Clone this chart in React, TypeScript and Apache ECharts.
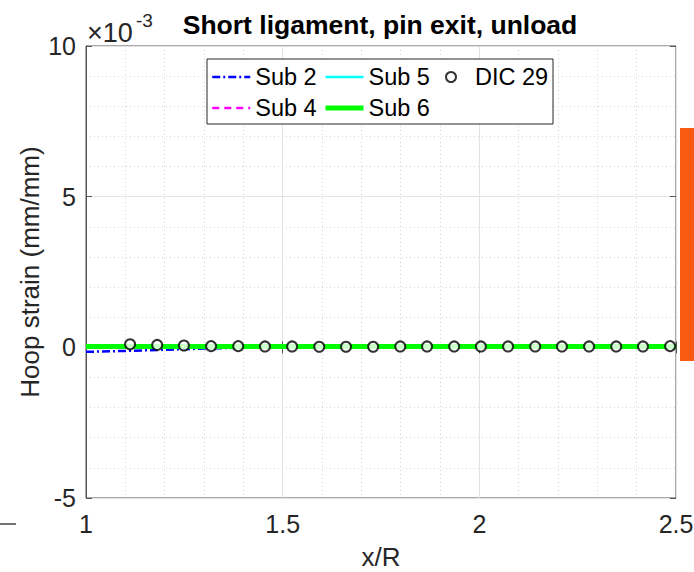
import React, { useEffect, useRef } from "react";
import * as echarts from "echarts";

// ---- data (strain values in units of 1e-3 mm/mm) ----
const titleText = "Short ligament, pin exit, unload";
const xTicks = [1, 1.5, 2, 2.5];
const yTicks = [-5, 0, 5, 10];

const simX = [1.0, 1.1, 1.2, 1.3, 1.4, 1.5, 1.75, 2.0, 2.25, 2.5];
const sub2Y = [-0.15, -0.12, -0.08, -0.04, -0.01, 0.01, 0.02, 0.02, 0.02, 0.02];
const sub4Y = [0.0, 0.01, 0.01, 0.02, 0.02, 0.02, 0.02, 0.02, 0.02, 0.02];
const sub5Y = [0.02, 0.02, 0.02, 0.02, 0.02, 0.02, 0.02, 0.02, 0.02, 0.02];
const sub6Y = [0.03, 0.03, 0.03, 0.03, 0.03, 0.03, 0.03, 0.03, 0.03, 0.03];

const dicX = [
  1.112, 1.181, 1.249, 1.318, 1.387, 1.455, 1.524, 1.593, 1.661, 1.73, 1.799,
  1.867, 1.936, 2.004, 2.073, 2.142, 2.21, 2.279, 2.348, 2.416, 2.485,
];
const dicY = [
  0.1, 0.08, 0.06, 0.04, 0.04, 0.03, 0.03, 0.02, 0.02, 0.02, 0.03, 0.03, 0.03,
  0.03, 0.03, 0.03, 0.03, 0.03, 0.03, 0.03, 0.04,
];

const zip = (xs: number[], ys: number[]) => xs.map((x, i) => [x, ys[i]]);

const FONT = "Liberation Sans";
const AX = "#262626";

export default function App() {
  const ref = useRef<HTMLDivElement>(null);
  useEffect(() => {
    const chart = echarts.init(ref.current!, null, { renderer: "svg" });
    const baseX = {
      type: "value" as const,
      min: xTicks[0],
      max: xTicks[xTicks.length - 1],
      interval: 0.5,
    };
    const baseY = {
      type: "value" as const,
      min: yTicks[0],
      max: yTicks[yTicks.length - 1],
      interval: 5,
    };
    const legendText = { fontSize: 23.5, color: "#000", fontFamily: FONT, lineHeight: 26 };
    const hideSym = { opacity: 0 };
    chart.setOption({
      animation: false,
      textStyle: { fontFamily: FONT },
      title: {
        text: titleText,
        left: 380,
        top: 11,
        padding: 0,
        textAlign: "center",
        textStyle: { fontSize: 26.5, fontWeight: "bold", color: "#000", fontFamily: FONT },
      },
      grid: {
        left: 86,
        top: 46,
        width: 590,
        height: 452,
        outerBoundsMode: "none",
        containLabel: false,
        show: true,
        borderColor: "#555",
        borderWidth: 1,
        backgroundColor: "#fff",
      },
      xAxis: [
        {
          ...baseX,
          position: "bottom",
          name: "x/R",
          nameLocation: "middle",
          nameGap: 46,
          nameMoveOverlap: false,
          nameTextStyle: { fontSize: 26, color: AX, fontFamily: FONT, lineHeight: 26 },
          axisLine: { show: true, lineStyle: { color: "#555" } },
          axisTick: { show: true, inside: true, length: 6, lineStyle: { color: "#555" } },
          axisLabel: { fontSize: 25, color: AX, margin: 13 },
          splitLine: { show: true, lineStyle: { color: "#e3e3e3", width: 1 } },
          minorTick: { show: false, splitNumber: 5 },
          minorSplitLine: { show: true, lineStyle: { color: "#d4d4d4", type: [1, 3], width: 1 } },
        },
        {
          ...baseX,
          position: "top",
          axisLine: { show: false },
          axisTick: { show: true, inside: true, length: 6, lineStyle: { color: "#555" } },
          axisLabel: { show: false },
          splitLine: { show: false },
        },
      ],
      yAxis: [
        {
          ...baseY,
          position: "left",
          name: "Hoop strain (mm/mm)",
          nameLocation: "middle",
          nameGap: 43,
          nameMoveOverlap: false,
          nameTextStyle: { fontSize: 26, color: AX, fontFamily: FONT, lineHeight: 26 },
          axisLine: { show: true, lineStyle: { color: "#555" } },
          axisTick: { show: true, inside: true, length: 6, lineStyle: { color: "#555" } },
          axisLabel: { fontSize: 25, color: AX, margin: 10 },
          splitLine: { show: true, lineStyle: { color: "#e3e3e3", width: 1 } },
          minorTick: { show: false, splitNumber: 5 },
          minorSplitLine: { show: true, lineStyle: { color: "#d4d4d4", type: [1, 3], width: 1 } },
        },
        {
          ...baseY,
          position: "right",
          axisLine: { show: false },
          axisTick: { show: true, inside: true, length: 6, lineStyle: { color: "#555" } },
          axisLabel: { show: false },
          splitLine: { show: false },
        },
      ],
      legend: [
        {
          orient: "vertical",
          left: 211,
          top: 64,
          padding: 0,
          itemWidth: 38,
          itemHeight: 14,
          itemGap: 5,
          itemStyle: hideSym,
          lineStyle: { width: 2.5 },
          textStyle: legendText,
          data: [{ name: "Sub 2" }, { name: "Sub 4" }],
        },
        {
          orient: "vertical",
          left: 323,
          top: 64,
          padding: 0,
          itemWidth: 38,
          itemHeight: 14,
          itemGap: 5,
          itemStyle: hideSym,
          lineStyle: { width: 2.5 },
          textStyle: legendText,
          data: [{ name: "Sub 5" }, { name: "Sub 6", lineStyle: { width: 5 } }],
        },
        {
          orient: "vertical",
          left: 445,
          top: 64,
          padding: 0,
          itemWidth: 38,
          itemHeight: 10,
          itemGap: 5,
          textStyle: legendText,
          data: [{ name: "DIC 29" }],
        },
      ],
      graphic: [
        {
          type: "rect",
          z: 3,
          shape: { x: 207, y: 59, width: 346, height: 65 },
          style: { fill: "#fff", stroke: AX, lineWidth: 1 },
        },
        {
          type: "text",
          x: 87,
          y: 33,
          style: { text: "×10", fontSize: 27, fill: AX, fontFamily: FONT, verticalAlign: "middle" },
        },
        {
          type: "text",
          x: 136,
          y: 20,
          style: { text: "-3", fontSize: 19, fill: AX, fontFamily: FONT, verticalAlign: "middle" },
        },
        {
          type: "rect",
          shape: { x: 680, y: 128, width: 14, height: 233 },
          style: { fill: "#F95A12" },
        },
        {
          type: "line",
          shape: { x1: 0, y1: 524, x2: 16, y2: 524 },
          style: { stroke: "#444", lineWidth: 1.5 },
        },
      ],
      series: [
        {
          name: "Sub 2",
          type: "line",
          data: zip(simX, sub2Y),
          symbol: "none",
          lineStyle: { color: "#0000ff", width: 2.5, type: [8, 3, 2, 3] },
          itemStyle: { color: "#0000ff" },
          z: 2,
        },
        {
          name: "Sub 4",
          type: "line",
          data: zip(simX, sub4Y),
          symbol: "none",
          lineStyle: { color: "#ff00ff", width: 2.5, type: [7, 5] },
          itemStyle: { color: "#ff00ff" },
          z: 2,
        },
        {
          name: "Sub 5",
          type: "line",
          data: zip(simX, sub5Y),
          symbol: "none",
          lineStyle: { color: "#00ffff", width: 2.5 },
          itemStyle: { color: "#00ffff" },
          z: 2,
        },
        {
          name: "Sub 6",
          type: "line",
          data: zip(simX, sub6Y),
          symbol: "none",
          lineStyle: { color: "#00ff00", width: 5 },
          itemStyle: { color: "#00ff00" },
          z: 2,
        },
        {
          name: "DIC 29",
          type: "scatter",
          data: zip(dicX, dicY),
          symbol: "emptyCircle",
          symbolSize: 10,
          itemStyle: { color: "#000", borderColor: "#000", borderWidth: 3 },
          z: 3,
        },
      ],
    });
    return () => chart.dispose();
  }, []);
  return (
    <div
      ref={ref}
      style={{ position: "absolute", left: 0, top: 0, width: 694, height: 572 }}
    />
  );
}
